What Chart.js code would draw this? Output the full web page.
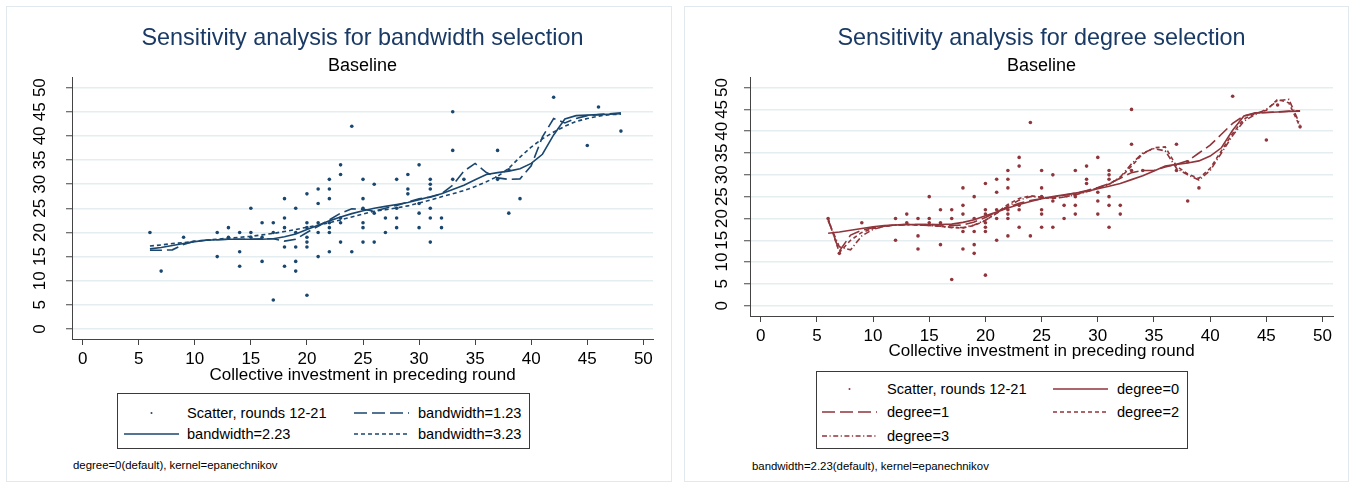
<!DOCTYPE html>
<html><head><meta charset="utf-8">
<script src="https://cdn.jsdelivr.net/npm/chart.js@4.4.1/dist/chart.umd.min.js"></script>
<style>
html,body{margin:0;padding:0;background:#fff;}
body{width:1354px;height:487px;position:relative;overflow:hidden;font-family:"Liberation Sans",Arial,sans-serif;}
.panel{position:absolute;border:1px solid #e1e9ef;box-sizing:border-box;}
.cv{position:absolute;}
.legend{position:absolute;border:1px solid #3a3a3a;box-sizing:border-box;background:#fff;}
.smp{position:absolute;width:55px;height:10px;}
.lt{position:absolute;height:20px;line-height:20px;font-size:14.6px;color:#000;white-space:nowrap;}
.note{position:absolute;font-size:11.4px;line-height:14px;color:#000;white-space:nowrap;}
</style></head><body>
<div class="panel" style="left:6px;top:6px;width:666px;height:476px"></div>
<div class="panel" style="left:684px;top:6px;width:665px;height:476px"></div>
<div class="cv" style="left:7px;top:7px;width:663px;height:379px"><canvas id="c1"></canvas></div>
<div class="cv" style="left:685px;top:7px;width:663px;height:355px"><canvas id="c2"></canvas></div>
<div id="leg1" class="legend" style="left:117px;top:393px;width:413px;height:56px"></div>
<div id="leg2" class="legend" style="left:816px;top:371px;width:372px;height:78px"></div>
<div class="note" style="left:73px;top:458px">degree=0(default), kernel=epanechnikov</div>
<div class="note" style="left:752px;top:459px">bandwidth=2.23(default), kernel=epanechnikov</div>
<script>
// ---------- data ----------
const xTickVals = [0, 5, 10, 15, 20, 25, 30, 35, 40, 45, 50];
const yTickVals = [0, 5, 10, 15, 20, 25, 30, 35, 40, 45, 50];

const scatterX = [6,7,9,12,12,13,13,14,14,14,15,15,15,16,16,16,17,17,17,18,18,18,18,18,19,19,19,19,19,
  20,20,20,20,20,20,20,21,21,21,21,21,22,22,22,22,22,22,22,23,23,23,23,23,24,24,25,25,25,25,25,25,
  26,26,26,27,27,28,28,28,28,29,29,29,30,30,30,30,31,31,31,31,31,31,32,32,33,33,33,34,37,37,38,38,39,42,45,46,48];
const scatterY = [20,12,19,20,15,21,19,20,16,13,25,20,19,22,19,14,22,20,6,27,23,21,17,13,25,20,17,14,12,
  28,22,21,19,18,17,7,29,26,22,20,15,31,29,27,22,21,20,16,34,32,23,22,18,42,16,31,27,25,22,21,18,
  30,24,18,23,20,31,25,23,21,32,29,28,34,26,24,21,31,30,29,25,23,18,23,21,45,37,31,31,37,31,33,24,27,48,38,46,41];

const xGrid = [6,7,8,9,10,11,12,13,14,15,16,17,18,19,20,21,22,23,24,25,26,27,28,29,30,31,32,33,34,35,36,37,38,39,40,41,42,43,44,45,46,47,48];

const bw123 = [16.3,16.3,16.4,17.5,18.2,18.4,18.5,18.6,18.6,18.6,18.7,18.7,18.2,18.6,20.0,21.3,22.6,24.0,24.9,24.8,24.4,25.0,25.6,26.3,27.0,27.3,28.0,29.8,32.7,34.3,32.4,31.3,31.0,31.1,33.8,39.8,43.6,42.7,43.6,44.2,44.4,44.6,44.8];
const bw223 = [16.6,16.9,17.3,17.7,18.1,18.4,18.5,18.6,18.6,18.6,18.6,18.7,19.1,19.7,20.6,21.5,22.4,23.2,23.9,24.5,25.0,25.4,25.8,26.2,26.8,27.4,28.0,28.9,29.8,30.9,32.0,32.4,32.7,33.2,34.3,36.2,40.2,43.5,44.2,44.3,44.4,44.5,44.6];
const bw323 = [17.2,17.4,17.7,17.9,18.2,18.4,18.6,18.8,19.0,19.2,19.5,19.8,20.2,20.6,21.1,21.5,22.0,22.6,23.2,23.8,24.4,24.7,25.1,25.5,26.1,26.7,27.4,28.0,28.7,29.5,30.5,31.6,33.3,35.6,37.7,39.4,40.8,42.0,43.0,43.6,44.1,44.4,44.5];

const deg0 = bw223; // degree 0 with the default bandwidth 2.23 is the same fit
const deg1 = [19.8,12.5,16.2,17.3,17.9,18.2,18.5,18.6,18.6,18.6,18.5,18.4,18.5,19.2,20.2,21.5,22.6,23.5,24.1,24.5,24.9,25.3,25.8,26.4,27.1,28.0,29.2,30.5,31.0,31.0,31.8,32.4,33.2,35.0,36.8,39.3,41.8,43.5,44.1,44.3,44.4,44.6,44.7];
const deg2 = [20.0,12.2,15.0,16.8,17.7,18.2,18.5,18.6,18.5,18.4,18.2,17.9,17.8,18.4,19.5,21.3,23.2,24.6,25.2,24.9,24.6,24.9,25.5,26.2,27.0,27.9,29.3,32.0,34.8,36.2,36.4,32.0,30.2,29.2,31.5,35.5,39.5,42.8,44.0,44.8,47.3,46.5,41.0];
const deg3 = [19.5,13.5,12.8,16.0,17.5,18.2,18.5,18.6,18.5,18.4,18.2,18.0,17.9,18.5,19.6,21.2,22.8,24.2,25.0,24.9,24.7,24.9,25.4,26.1,26.9,27.8,29.5,32.5,35.0,36.0,35.5,31.5,30.0,28.8,31.0,35.0,39.0,42.3,43.8,45.0,47.0,47.3,41.5];

// ---------- styling ----------
const FONT = '"Liberation Sans", Arial, sans-serif';
const NAVY = '#1a476f';
const MAROON = '#90353b';
const DASH = {solid: [], long: [12, 5], short: [4, 3], dashdot: [6, 2.5, 1.2, 2.5]};
const SVGDASH = {solid: '', long: '13 5', short: '4 3', dashdot: '5 2.5 1.2 2.5'};

function pts(xs, ys) { return xs.map((x, i) => ({x: x, y: ys[i]})); }

function lineDs(label, ys, color, kind) {
  return {label: label, data: pts(xGrid, ys), showLine: true, borderColor: color, borderWidth: 1.6,
    borderDash: DASH[kind], pointRadius: 0, fill: false, tension: 0, _kind: kind};
}
function scatterDs(color) {
  return {label: 'Scatter, rounds 12-21', data: pts(scatterX, scatterY), showLine: false,
    pointRadius: 1.8, pointBorderWidth: 0, pointBackgroundColor: color, borderColor: color, _kind: 'dot'};
}

function makeChart(id, o) {
  return new Chart(document.getElementById(id), {
    type: 'scatter',
    data: {datasets: o.datasets},
    options: {
      responsive: true, maintainAspectRatio: false, animation: false,
      layout: {padding: {left: 0, right: o.padRight, top: 0, bottom: 0}},
      plugins: {
        legend: {display: false}, tooltip: {enabled: false},
        title: {display: true, text: o.title, fullSize: false, color: '#1a3a66',
          font: {family: FONT, size: 23.4, weight: 'normal'}, padding: {top: 18, bottom: 0}},
        subtitle: {display: true, text: 'Baseline', fullSize: false, color: '#000',
          font: {family: FONT, size: 18, weight: 'normal'}, padding: {top: 2.3, bottom: 1.0}}
      },
      scales: {
        x: {type: 'linear', min: o.xMin, max: o.xMax,
          afterBuildTicks: s => { s.ticks = xTickVals.map(v => ({value: v})); },
          afterFit: s => { s.height = o.xH; },
          grid: {drawOnChartArea: false, color: '#444', tickColor: '#444', tickLength: 6, lineWidth: 1},
          border: {color: '#444', width: 1},
          ticks: {color: '#000', font: {family: FONT, size: 17}, padding: 4, autoSkip: false, maxRotation: 0, minRotation: 0},
          title: {display: true, text: 'Collective investment in preceding round', color: '#000',
            font: {family: FONT, size: 17}, padding: {top: 0, bottom: 0}}
        },
        y: {type: 'linear', min: o.yMin, max: o.yMax,
          afterBuildTicks: s => { s.ticks = yTickVals.map(v => ({value: v})); },
          afterFit: s => { s.width = 65; },
          grid: {color: '#e4edf0', lineWidth: 1.5, tickColor: '#444', tickWidth: 1, tickLength: 6},
          border: {color: '#444', width: 1},
          ticks: {color: '#000', font: {family: FONT, size: 17}, padding: o.yPad, autoSkip: false,
            minRotation: 90, maxRotation: 90, crossAlign: 'center'}
        }
      }
    }
  });
}

const ds1 = [scatterDs(NAVY), lineDs('bandwidth=1.23', bw123, NAVY, 'long'),
  lineDs('bandwidth=2.23', bw223, NAVY, 'solid'), lineDs('bandwidth=3.23', bw323, NAVY, 'short')];
const ds2 = [scatterDs(MAROON), lineDs('degree=0', deg0, MAROON, 'solid'), lineDs('degree=1', deg1, MAROON, 'long'),
  lineDs('degree=2', deg2, MAROON, 'short'), lineDs('degree=3', deg3, MAROON, 'dashdot')];

makeChart('c1', {datasets: ds1, title: 'Sensitivity analysis for bandwidth selection', padRight: 17,
  xMin: -0.95, xMax: 50.86, yMin: -2.07, yMax: 52.0, xH: 47, yPad: 16});
makeChart('c2', {datasets: ds2, title: 'Sensitivity analysis for degree selection', padRight: 15,
  xMin: -0.95, xMax: 50.93, yMin: -2.36, yMax: 52.2, xH: 46, yPad: 12});

function sampleSvg(kind, color) {
  if (kind === 'dot') return '<svg class="smp" viewBox="0 0 55 10"><circle cx="27.5" cy="5" r="1" fill="' + color + '"/></svg>';
  return '<svg class="smp" viewBox="0 0 55 10"><line x1="0" y1="5" x2="55" y2="5" stroke="' + color +
    '" stroke-width="1.4" stroke-dasharray="' + SVGDASH[kind] + '"/></svg>';
}
function buildLegend(id, datasets, color, cols, rows) {
  const el = document.getElementById(id);
  let html = '';
  datasets.forEach((d, i) => {
    const c = cols[i % 2], r = rows[Math.floor(i / 2)];
    html += '<div style="position:absolute;left:' + c.s + 'px;top:' + (r - 5) + 'px">' + sampleSvg(d._kind, color).replace('class="smp"', 'class="smp" style="position:static;display:block"') + '</div>';
    html += '<div class="lt" style="left:' + c.t + 'px;top:' + (r - 10) + 'px">' + d.label + '</div>';
  });
  el.innerHTML = html;
}
buildLegend('leg1', ds1, NAVY, [{s: 6, t: 69}, {s: 236, t: 300}], [18.5, 39.5]);
buildLegend('leg2', ds2, MAROON, [{s: 5, t: 70}, {s: 236, t: 300}], [16.8, 40.2, 63.5]);
</script>
</body></html>
